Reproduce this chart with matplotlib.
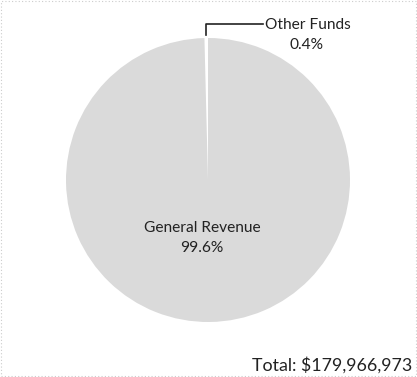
import matplotlib.pyplot as plt
import numpy as np
from matplotlib.patches import Rectangle

# Funding sources
labels = ["Other Funds", "General Revenue"]
shares = [0.4, 99.6]
pct_labels = ["0.4%", "99.6%"]
total_label = "Total: $179,966,973"

plt.rcParams['font.family'] = ['Lato', 'DejaVu Sans']

W, H = 417, 377
fig = plt.figure(figsize=(W / 100, H / 100), dpi=100)
ax = fig.add_axes([0, 0, 1, 1])

cx, cy, r = 208, H - 180, 142
wedges, _ = ax.pie(shares, startangle=90, counterclock=True,
                   colors=['white', '#dadada'], center=(cx, cy), radius=r,
                   wedgeprops=dict(edgecolor='none'), frame=True)
ax.set_xlim(0, W)
ax.set_ylim(0, H)
ax.set_aspect('equal')
ax.axis('off')

# leader line for the small slice
w = wedges[0]
mid = np.deg2rad((w.theta1 + w.theta2) / 2)
lx = cx + r * np.cos(mid)
top = cy + r * np.sin(mid)
ax.plot([lx, lx, 263], [top + 3, H - 24, H - 24], color='#222222', lw=1.2)
ax.text(265, H - 25, labels[0], ha='left', va='center', fontsize=11.2, color='#222222')
ax.text(307, H - 45, pct_labels[0], ha='center', va='center', fontsize=11.2, color='#222222')

# big slice label
ax.text(202, H - 228, labels[1], ha='center', va='center', fontsize=11.2, color='#222222')
ax.text(202, H - 248, pct_labels[1], ha='center', va='center', fontsize=11.2, color='#222222')

ax.text(412, H - 365, total_label, ha='right', va='center', fontsize=12.8, color='#222222')

# faint dotted frame
ax.add_patch(Rectangle((1, 1), W - 2, H - 2, fill=False, edgecolor='#cccccc',
                       linestyle=(0, (1, 2)), lw=0.8))

fig.savefig("out.png", dpi=100)
